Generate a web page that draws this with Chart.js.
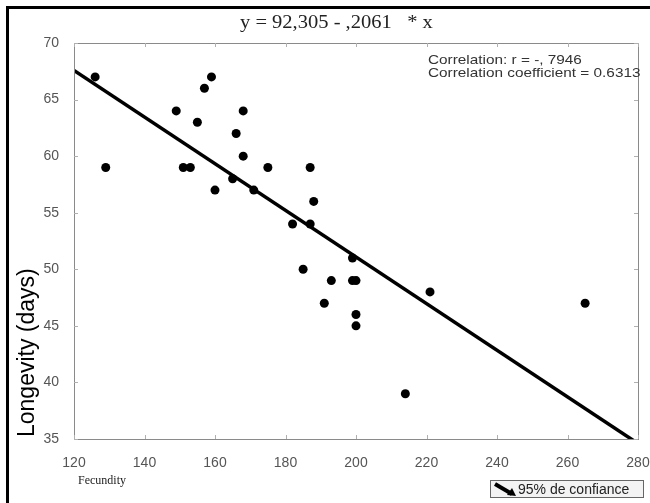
<!DOCTYPE html>
<html>
<head>
<meta charset="utf-8">
<script src="https://cdn.jsdelivr.net/npm/chart.js@4/dist/chart.umd.min.js"></script>
<style>
  html, body { margin: 0; padding: 0; background: #fff; }
  canvas { display: block; }
</style>
</head>
<body>
<canvas id="chart" width="650" height="503"></canvas>
<script>
// data
const fecundity = [126, 129, 149, 151, 153, 155, 157, 159, 160, 165, 166, 168, 168, 171, 175,
                   182, 187, 188, 187, 185, 193, 199, 199, 200, 191, 200, 200, 221, 214, 265];
const longevity = [67, 59, 64, 59, 59, 63, 66, 67, 57, 58, 62, 64, 60, 57, 59,
                   54, 59, 56, 54, 50, 49, 51, 49, 49, 47, 46, 45, 48, 39, 47];
// fitted line end points (y = 92,305 - ,2061 * x)
const fitX = [120, 280];
const fitY = [67.57, 34.60];
const xTicks = [120, 140, 160, 180, 200, 220, 240, 260, 280];
const yTicks = [35, 40, 45, 50, 55, 60, 65, 70];

const points = fecundity.map((x, i) => ({x: x, y: longevity[i]}));
const fit = fitX.map((x, i) => ({x: x, y: fitY[i]}));

// draw text stretched a little in width, like the scanned original
function wideText(c, txt, x, y, sx) {
    c.save();
    c.translate(x, y);
    c.scale(sx, 1);
    c.fillText(txt, 0, 0);
    c.restore();
}

const decor = {
    id: 'decor',
    beforeDraw(chart) {
        const c = chart.ctx;
        c.save();
        c.fillStyle = '#fff';
        c.fillRect(0, 0, chart.width, chart.height);
        c.restore();
    },
    afterDraw(chart) {
        const c = chart.ctx;
        const a = chart.chartArea;
        const sx = chart.scales.x, sy = chart.scales.y;
        c.save();

        // outer black frame (top and left)
        c.fillStyle = '#000';
        c.fillRect(6, 6, chart.width - 6, 3);
        c.fillRect(6, 6, 3, chart.height - 6);

        // plot frame
        c.strokeStyle = '#8a8a8a';
        c.lineWidth = 1;
        c.strokeRect(a.left + 0.5, a.top + 0.5, a.right - a.left, a.bottom - a.top);

        // inward tick marks
        c.strokeStyle = '#b0b0b0';
        c.beginPath();
        xTicks.forEach(v => {
            const px = Math.round(sx.getPixelForValue(v)) + 0.5;
            c.moveTo(px, a.bottom); c.lineTo(px, a.bottom - 4);
            c.moveTo(px, a.top); c.lineTo(px, a.top + 4);
        });
        yTicks.forEach(v => {
            const py = Math.round(sy.getPixelForValue(v)) + 0.5;
            c.moveTo(a.left, py); c.lineTo(a.left + 4, py);
            c.moveTo(a.right, py); c.lineTo(a.right - 4, py);
        });
        c.stroke();

        // title
        c.fillStyle = '#222';
        c.font = '19px "Liberation Serif", "Times New Roman", serif';
        c.textAlign = 'left';
        c.textBaseline = 'alphabetic';
        wideText(c, 'y = 92,305 - ,2061   * x', 240, 28, 1.08);

        // correlation note
        c.fillStyle = '#333';
        c.font = '13px "Liberation Sans", Arial, sans-serif';
        wideText(c, 'Correlation: r = -, 7946', 428, 64, 1.18);
        wideText(c, 'Correlation coefficient = 0.6313', 428, 77, 1.18);

        // x axis title
        c.fillStyle = '#222';
        c.font = '12px "Liberation Serif", "Times New Roman", serif';
        c.fillText('Fecundity', 78, 484);

        // y axis title
        c.save();
        c.translate(28, 437);
        c.rotate(-Math.PI / 2);
        c.fillStyle = '#000';
        c.font = '23px "Liberation Sans", Arial, sans-serif';
        c.textBaseline = 'middle';
        c.fillText('Longevity (days)', 0, 0);
        c.restore();

        // legend box
        c.fillStyle = '#f3f3f3';
        c.fillRect(490, 480, 153, 17);
        c.strokeStyle = '#666';
        c.strokeRect(490.5, 480.5, 153, 17);
        c.strokeStyle = '#000';
        c.lineWidth = 4;
        c.beginPath();
        c.moveTo(495, 484);
        c.lineTo(512, 494);
        c.stroke();
        c.fillStyle = '#000';
        c.beginPath();
        c.moveTo(516, 496);
        c.lineTo(507, 495);
        c.lineTo(512, 488);
        c.closePath();
        c.fill();
        c.font = '14px "Liberation Sans", Arial, sans-serif';
        c.fillStyle = '#222';
        c.textBaseline = 'alphabetic';
        c.fillText('95% de confiance', 518, 494);

        c.restore();
    }
};

new Chart(document.getElementById('chart'), {
    type: 'scatter',
    data: {
        datasets: [{
            data: points,
            pointRadius: 4.5,
            pointBackgroundColor: '#000',
            pointBorderWidth: 0,
            showLine: false
        }, {
            data: fit,
            showLine: true,
            borderColor: '#000',
            borderWidth: 3.5,
            pointRadius: 0
        }]
    },
    options: {
        responsive: false,
        animation: false,
        layout: {padding: {left: 0, right: 12, top: 43, bottom: 0}},
        plugins: {
            legend: {display: false},
            tooltip: {enabled: false}
        },
        scales: {
            x: {
                type: 'linear',
                min: 120,
                max: 280,
                afterFit: s => { s.height = 64; s.paddingLeft = 0; s.paddingRight = 0; },
                afterBuildTicks: s => { s.ticks = xTicks.map(v => ({value: v})); },
                grid: {display: false},
                border: {display: false},
                ticks: {
                    padding: 8,
                    color: '#555',
                    font: {family: '"Liberation Sans", Arial, sans-serif', size: 14}
                }
            },
            y: {
                type: 'linear',
                min: 35,
                max: 70,
                afterFit: s => { s.width = 74; s.paddingTop = 0; s.paddingBottom = 0; },
                afterBuildTicks: s => { s.ticks = yTicks.map(v => ({value: v})); },
                grid: {display: false},
                border: {display: false},
                ticks: {
                    padding: 7,
                    color: '#555',
                    font: {family: '"Liberation Sans", Arial, sans-serif', size: 14}
                }
            }
        }
    },
    plugins: [decor]
});
</script>
</body>
</html>
